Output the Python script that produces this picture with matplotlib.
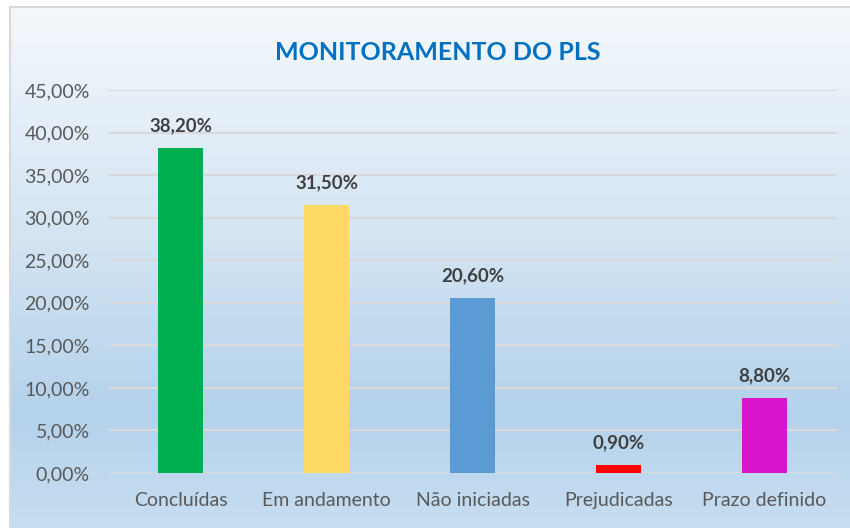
import numpy as np
import matplotlib
matplotlib.use("Agg")
from matplotlib import pyplot as plt
from matplotlib.colors import LinearSegmentedColormap

categories = ["Concluídas", "Em andamento", "Não iniciadas", "Prejudicadas", "Prazo definido"]
values = [38.20, 31.50, 20.60, 0.90, 8.80]
labels = ["38,20%", "31,50%", "20,60%", "0,90%", "8,80%"]
colors = ["#00b050", "#ffd966", "#5b9bd5", "#ff0000", "#d915cc"]
ticks = [0, 5, 10, 15, 20, 25, 30, 35, 40, 45]
tick_labels = ["0,00%", "5,00%", "10,00%", "15,00%", "20,00%", "25,00%",
               "30,00%", "35,00%", "40,00%", "45,00%"]

plt.rcParams['font.family'] = ['Lato', 'DejaVu Sans']

W, H = 850, 528
fig = plt.figure(figsize=(W / 100, H / 100), dpi=100)

# gradient background of the chart box
bg = fig.add_axes([0, 0, 1, 1])
bg.set_xlim(0, W)
bg.set_ylim(H, 0)
bg.axis('off')
cmap = LinearSegmentedColormap.from_list(
    "bg", [(0, "#f4f8fc"), (0.45, "#d3e4f3"), (0.78, "#b4d2eb"), (1, "#c8def1")])
grad = np.linspace(0, 1, 256).reshape(-1, 1)
bg.imshow(grad, cmap=cmap, aspect='auto', extent=[10, W, H, 7], zorder=0)
bg.plot([10, 10], [7, H], color="#d9d9d9", lw=1.5, zorder=1)
bg.plot([10, W], [7, 7], color="#d9d9d9", lw=1.5, zorder=1)

ax = fig.add_axes([108 / W, 1 - 473 / H, (837 - 108) / W, (473 - 90) / H])
ax.patch.set_alpha(0)
x = np.arange(len(categories))
ax.bar(x, values, width=0.31, color=colors, zorder=3)
for xi, v, lab in zip(x, values, labels):
    ax.text(xi, v + 1.6, lab, ha='center', va='bottom', fontsize=13.5,
            fontweight='bold', color="#404040")

ax.set_xlim(-0.5, 4.5)
ax.set_ylim(0, 45)
ax.set_yticks(ticks)
ax.set_yticklabels(tick_labels, fontsize=14, color="#595959")
ax.set_xticks(x)
ax.set_xticklabels(categories, fontsize=14, color="#595959")
ax.tick_params(length=0, axis='y', pad=13)
ax.tick_params(length=0, axis='x', pad=14)
ax.grid(axis='y', color="#d9d9d9", lw=1.5, zorder=1)
for s in ax.spines.values():
    s.set_visible(False)

fig.text(438 / W, 1 - 53 / H, "MONITORAMENTO DO PLS", ha='center', va='center',
         fontsize=18, fontweight='bold', color="#0070c0")

fig.savefig("out.png", dpi=100)
